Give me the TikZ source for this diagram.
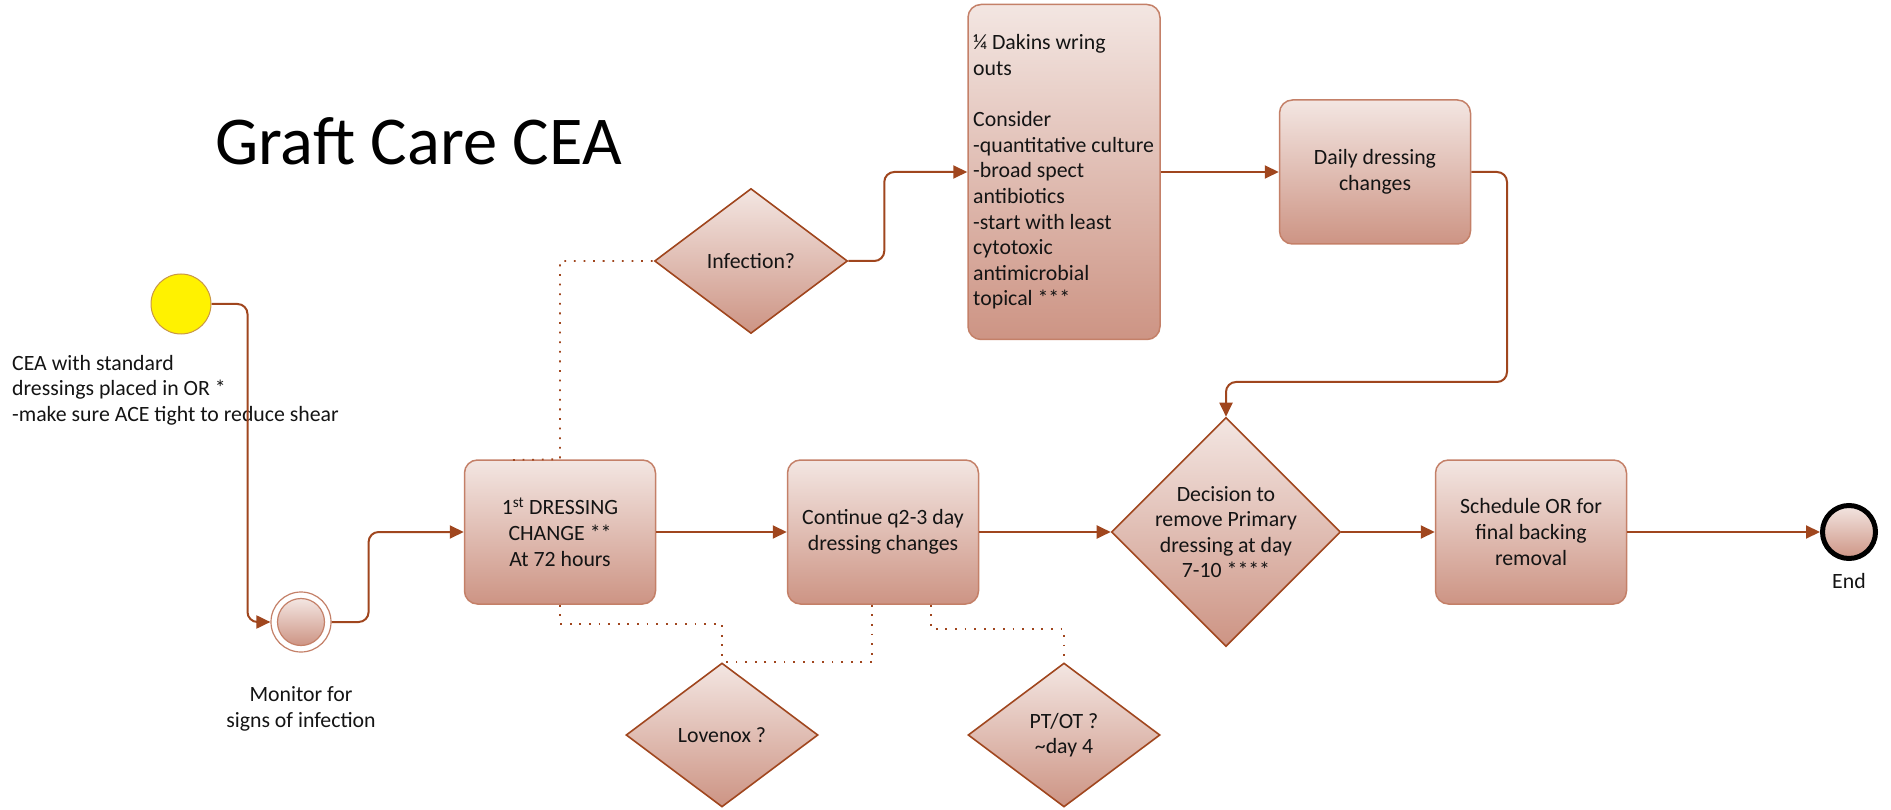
\documentclass[tikz,border=0pt]{standalone}
\usepackage{fontspec}
\setmainfont{Carlito}
\usetikzlibrary{shapes.geometric,arrows.meta,calc}
\definecolor{arrowc}{RGB}{160,70,30}
\definecolor{bord}{RGB}{196,128,104}
\definecolor{gtop}{RGB}{243,230,226}
\definecolor{gbot}{RGB}{205,148,132}
\definecolor{txtc}{RGB}{20,20,20}
\begin{document}
\begin{tikzpicture}[x=1pt,y=-1pt,
  body/.style={font=\fontsize{21.8}{25.6}\selectfont, text=txtc},
  procbox/.style={rectangle, rounded corners=13pt, draw=bord, line width=1.5pt,
     top color=gtop, bottom color=gbot, minimum width=191pt, minimum height=144pt,
     inner sep=0pt, align=center, body},
  dia/.style={diamond, draw=arrowc, line width=1.6pt, top color=gtop, bottom color=gbot,
     inner sep=0pt},
  txt/.style={body, align=center, inner sep=0pt},
  conn/.style={draw=arrowc, line width=2pt, rounded corners=10pt,
     -{Triangle[length=14pt,width=13pt]}},
  dotline/.style={draw=arrowc, line width=1.8pt, dash pattern=on 1.8pt off 7.8pt}]
\useasboundingbox (0,0) rectangle (1891,810);

% title
\node[anchor=west, inner sep=0pt, font=\fontsize{68.5}{72}\selectfont, text=black] (title) at (215,141) {Graft Care CEA};

% start event
\node[circle, minimum size=60pt, inner sep=0pt, fill=yellow, draw={rgb,255:red,200;green,150;blue,70}, line width=1pt] (start) at (181,304) {};
\node[txt, align=left, anchor=west] (starttxt) at (12,390) {CEA with standard\\dressings placed in OR *\\-make sure ACE tight to reduce shear};

% monitor intermediate event
\node[circle, minimum size=60pt, inner sep=0pt, draw=bord, fill=white, line width=1.2pt] (mon) at (301,622) {};
\node[circle, minimum size=47pt, inner sep=0pt, draw=bord, line width=1.2pt, top color=gtop, bottom color=gbot] (moni) at (301,622) {};
\node[txt] (montxt) at (301,709) {Monitor for\\signs of infection};

% boxes
\node[procbox] (box1) at (560,532) {1\textsuperscript{st} DRESSING\\CHANGE **\\At 72 hours};
\node[procbox] (box2) at (883,532) {Continue q2-3 day\\dressing changes};
\node[procbox] (sched) at (1531,532) {Schedule OR for\\final backing\\removal};
\node[procbox] (daily) at (1375,172) {Daily dressing\\changes};
\node[procbox, minimum height=335pt, minimum width=192pt] (dak) at (1064,172) {};
\node[txt, align=left, anchor=west] (daktxt) at (973,172) {¼ Dakins wring\\outs\\[25.6pt]Consider\\-quantitative culture\\-broad spect\\antibiotics\\-start with least\\cytotoxic\\antimicrobial\\topical ***};

% diamonds
\node[dia, minimum width=193pt, minimum height=145pt] (inf) at (751,261) {};
\node[txt] (inftxt) at (inf.center) {Infection?};
\node[dia, minimum width=192pt, minimum height=144pt] (lov) at (722,735) {};
\node[txt] (lovtxt) at (lov.center) {Lovenox ?};
\node[dia, minimum width=192pt, minimum height=144pt] (pt) at (1064,735) {};
\node[txt] (pttxt) at (pt.center) {PT/OT ?\\\textasciitilde day 4};
\node[dia, minimum width=229pt, minimum height=229pt] (dec) at (1226,532) {};
\node[txt] (dectxt) at (dec.center) {Decision to\\remove Primary\\dressing at day\\7-10 ****};

% end event
\node[circle, minimum size=53pt, inner sep=0pt, draw=black, line width=5pt, top color=gtop, bottom color=gbot] (end) at (1849,532) {};
\node[txt] (endtxt) at (1849,581) {End};

% connectors
\draw[conn] (start.east) -- ++(36,0) |- (mon.west);
\draw[conn] (mon.east) -- ++(37,0) |- (box1.west);
\draw[conn] (box1.east) -- (box2.west);
\draw[conn] (box2.east) -- (dec.west);
\draw[conn] (dec.east) -- (sched.west);
\draw[conn] (sched.east) -- (end.west);
\draw[conn] (inf.east) -- ++(36,0) |- (dak.west);
\draw[conn] (dak.east) -- (daily.west);
\coordinate (turn) at (1507,382);
\draw[conn] (daily.east) -| (turn) -| (dec.north);

% dotted associations
\coordinate (d1s) at (513,460);
\draw[dotline] (d1s) -- (box1.north) |- (inf.west);
\draw[dotline] (box1.south) -- ++(0,19) -| (lov.north);
\draw[dotline] ($(box2.south)+(-11,0)$) |- (lov.north);
\draw[dotline] ($(box2.south)+(48,0)$) -- ++(0,24) -| (pt.north);
\end{tikzpicture}
\end{document}
